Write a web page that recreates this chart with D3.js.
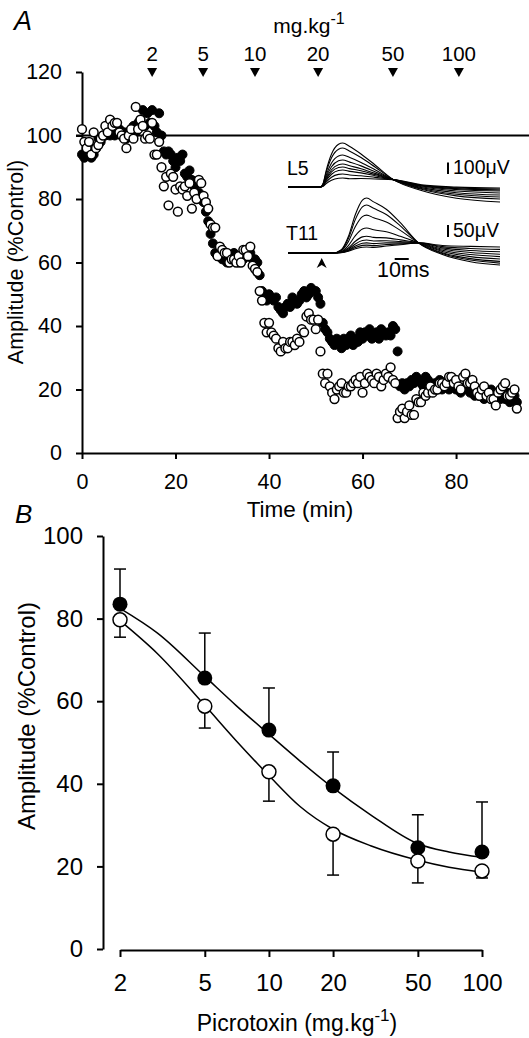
<!DOCTYPE html>
<html><head><meta charset="utf-8">
<script src="https://cdn.jsdelivr.net/npm/d3@7/dist/d3.min.js"></script>
<style>
html,body{margin:0;padding:0;background:#fff;}
svg{display:block;font-family:"Liberation Sans",Arial,Helvetica,sans-serif;}
</style></head><body>
<svg id="chart" width="529" height="1038"></svg>
<script>
// ---------- Panel A data (amplitude, % control; one sample every 0.5 min from t = 0) ----------
const sampleStepMin = 0.5;
const openAmp = [
 102, 98, 96, 98, 94, 101, 96, 97, 99, 100,
 103, 101, 105, 103, 104, 104, 101, 100, 99, 96,
 100, 102, 99, 109, 102, 105, 103, 99, 100, 99,
 104, 94, 94, 98, 90, 84, 87, 78, 88, 87,
 83, 76, 84, 83, 84, 81, 85, 77, 82, 80,
 86, 85, 81, 79, 77, 72, 71, 71, 62, 65,
 64, 63, 63, 60, 61, 61, 60, 62, 60, 64,
 64, 62, 65, 59, 58, 57, 51, 48, 41, 38,
 41, 38, 37, 36, 33, 32, 35, 33, 33, 35,
 35, 34, 36, 35, 39, 38, 43, 44, 42, 42,
 39, 42, 32, 25, 22, 25, 21, 19, 17, 20,
 21, 22, 19, 19, 21, 21, 22, 23, 22, 24,
 19, 22, 25, 24, 23, 22, 25, 24, 21, 23,
 25, 24, 27, 23, 22, 11, 13, 14, 11, 13,
 15, 12, 12, 17, 16, 16, 19, 18, 19, 21,
 19, 20, 20, 22, 22, 21, 22, 24, 24, 22,
 23, 21, 20, 24, 25, 22, 22, 23, 21, 19,
 18, 20, 21, 18, 19, 17, 17, 15, 19, 20,
 21, 22, 18, 18, 19, 20, 14
];
const filledAmp = [
 94, 93, 95, 94, 93, 94, 96, 99, 98, 100,
 100, 101, 100, 102, 100, 101, 102, 100, 101, 99,
 101, 102, 103, 101, 104, 105, 108, 103, 107, 104,
 108, 103, 101, 107, 100, 95, 94, 95, 94, 92,
 90, 93, 92, 94, 88, 87, 89, 86, 84, 85,
 82, 81, 79, 76, 73, 69, 66, 63, 62, 63,
 61, 62, 60, 61, 62, 63, 61, 60, 62, 61,
 62, 62, 63, 61, 61, 60, 56, 51, 50, 48,
 50, 49, 48, 49, 46, 45, 44, 46, 47, 46,
 49, 48, 47, 48, 50, 51, 49, 50, 52, 51,
 51, 49, 47, 41, 39, 38, 36, 35, 34, 36,
 35, 33, 36, 34, 35, 37, 34, 36, 35, 38,
 36, 38, 37, 39, 36, 37, 38, 36, 39, 38,
 37, 38, 37, 40, 39, 32, 21, 22, 20, 22,
 21, 23, 22, 24, 23, 22, 21, 24, 23, 22,
 21, 22, 21, 23, 20, 22, 21, 20, 22, 21,
 20, 21, 19, 20, 21, 20, 19, 20, 18, 19,
 18, 19, 17, 19, 18, 20, 18, 17, 19, 17,
 18, 17, 19, 16, 17, 18, 16
];
const yTicksA = [0, 20, 40, 60, 80, 100, 120];
const xTicksA = [0, 20, 40, 60, 80];
const doseTimes = [15, 25.9, 37, 50.5, 66.5, 80.6];
const doseLabels = ["2", "5", "10", "20", "50", "100"];

// ---------- Inset traces (time in ms, amplitude in µV) ----------
const l5Peaks = [383, 339, 278, 235, 200, 174, 148, 113, 78];
const l5Ends  = [-130, -104, -87, -70, -52, -35, -26, -17, -9];
const l5Cross = 64;
const l5Time      = [0, 23, 25, 27, 31, 36, 39, 44, 52, 62, 75, 95, 120, 151];
const l5PeakW     = [0, 0, 0.08, 0.35, 0.75, 0.97, 1, 0.92, 0.7, 0.4, 0, 0, 0, 0];
const l5CrossW    = [0, 0, 0, 0, 0, 0, 0, 0, 0.3, 0.6, 1, 0.35, 0.1, 0];
const l5EndW      = [0, 0, 0, 0, 0, 0, 0, 0, 0, 0, 0, 0.4, 0.8, 1];

const t11Peaks = [229, 200, 158, 104, 70, 54, 42, 33, 25];
const t11Ends  = [-50, -42, -35, -25, -15, -5, 5, 15, 25];
const t11Cross = 42;
const t11Time   = [0, 32, 38, 43, 48, 53, 56, 61, 70, 80, 93, 110, 130, 151];
const t11PeakW  = [0, 0, 0.06, 0.3, 0.7, 0.96, 1, 0.93, 0.75, 0.45, 0, 0, 0, 0];
const t11CrossW = [0, 0, 0, 0, 0, 0, 0, 0, 0.25, 0.55, 1, 0.45, 0.15, 0];
const t11EndW   = [0, 0, 0, 0, 0, 0, 0, 0, 0, 0, 0, 0.5, 0.85, 1];

// ---------- Panel B data ----------
const doses = [2, 5, 10, 20, 50, 100];
const filledMean = [83.5, 65.6, 53, 39.5, 24.5, 23.5];
const filledSE   = [8.5, 10.9, 10.2, 8.2, 8, 12.1];
const openMean   = [79.7, 58.8, 42.9, 27.8, 21.3, 18.9];
const openSE     = [4.2, 5.3, 7.1, 9.9, 5.3, 1.7];
const fitDoses   = [2, 3, 5, 7, 10, 14, 20, 30, 50, 70, 100];
const fitFilled  = [82.5, 76.5, 66, 59, 52, 45.5, 39, 32.5, 25.5, 23.5, 22.2];
const fitOpen    = [79.5, 71.5, 59, 50.5, 42, 34.5, 29, 25, 21.5, 19.8, 18.6];
const yTicksB = [0, 20, 40, 60, 80, 100];

// ================= drawing =================
const svg = d3.select("#chart");

// ----- Panel A -----
const xA = d3.scaleLinear().domain([0, 95.6]).range([82, 529]);
const yA = d3.scaleLinear().domain([0, 120]).range([453, 72]);

const gA = svg.append("g");
const yAxA = gA.append("g").attr("transform", `translate(${xA(0)},0)`)
  .call(d3.axisLeft(yA).tickValues(yTicksA).tickSize(6).tickSizeOuter(0).tickPadding(14));
const xAxA = gA.append("g").attr("transform", `translate(0,${yA(0)})`)
  .call(d3.axisBottom(xA).tickValues(xTicksA).tickSize(6).tickSizeOuter(0).tickPadding(15));
[yAxA, xAxA].forEach(a => {
  a.selectAll("path,line").attr("stroke", "#000").attr("stroke-width", 2);
  a.selectAll("text").attr("font-size", 21.5).attr("fill", "#000").attr("font-family", "Liberation Sans, Arial, sans-serif");
});

// 100% reference line
gA.append("line").attr("x1", xA(0) - 6).attr("x2", 529)
  .attr("y1", yA(100)).attr("y2", yA(100)).attr("stroke", "#000").attr("stroke-width", 2);

const filledPts = filledAmp.map((v, i) => [i * sampleStepMin, v]);
const openPts = openAmp.map((v, i) => [i * sampleStepMin, v]);
gA.append("g").selectAll("circle").data(filledPts).join("circle")
  .attr("cx", d => xA(d[0])).attr("cy", d => yA(d[1])).attr("r", 4.5)
  .attr("fill", "#000").attr("stroke", "#000").attr("stroke-width", 1);
gA.append("g").selectAll("circle").data(openPts).join("circle")
  .attr("cx", d => xA(d[0])).attr("cy", d => yA(d[1])).attr("r", 4.4)
  .attr("fill", "#fff").attr("stroke", "#000").attr("stroke-width", 1.5);

// dose markers
const doseG = gA.append("g");
doseG.selectAll("path").data(doseTimes).join("path")
  .attr("d", t => `M${xA(t) - 5},68 L${xA(t) + 5},68 L${xA(t)},77 Z`).attr("fill", "#000");
doseG.selectAll("text").data(doseTimes).join("text")
  .attr("x", t => xA(t)).attr("y", 61).attr("text-anchor", "middle")
  .attr("font-size", 20.5).text((t, i) => doseLabels[i]);
const mg = gA.append("text").attr("x", 309).attr("y", 33).attr("text-anchor", "middle").attr("font-size", 21);
mg.append("tspan").text("mg.kg");
mg.append("tspan").attr("dy", -9).attr("font-size", 16).text("-1");

// axis labels
gA.append("text").attr("x", 300).attr("y", 517).attr("text-anchor", "middle").attr("font-size", 22.5).text("Time (min)");
gA.append("text").attr("transform", "translate(23,262) rotate(-90)").attr("text-anchor", "middle")
  .attr("font-size", 21.5).text("Amplitude (%Control)");
gA.append("text").attr("x", 14).attr("y", 30).attr("font-size", 27).attr("font-style", "italic").text("A");

// ----- Inset traces -----
const xIns = d3.scaleLinear().domain([0, 151]).range([288, 500]);
const yL5 = d3.scaleLinear().domain([0, 100]).range([187, 175.5]);
const yT11 = d3.scaleLinear().domain([0, 50]).range([253, 241]);
const insG = svg.append("g").attr("fill", "none").attr("stroke", "#000").attr("stroke-width", 1.1);

function buildTrace(times, pw, cw, ew, P, X, L) {
  return times.map((t, k) => [t, P * pw[k] + X * cw[k] + L * ew[k]]);
}
const lineL5 = d3.line().x(d => xIns(d[0])).y(d => yL5(d[1])).curve(d3.curveMonotoneX);
const lineT11 = d3.line().x(d => xIns(d[0])).y(d => yT11(d[1])).curve(d3.curveMonotoneX);
l5Peaks.forEach((P, i) => {
  insG.append("path").attr("d", lineL5(buildTrace(l5Time, l5PeakW, l5CrossW, l5EndW, P, l5Cross, l5Ends[i])));
});
t11Peaks.forEach((P, i) => {
  insG.append("path").attr("d", lineT11(buildTrace(t11Time, t11PeakW, t11CrossW, t11EndW, P, t11Cross, t11Ends[i])));
});

// scale bars and labels
const sb = svg.append("g");
sb.append("line").attr("x1", 448).attr("x2", 448).attr("y1", yL5(100)).attr("y2", yL5(0)).attr("transform", "translate(0,-13)")
  .attr("stroke", "#000").attr("stroke-width", 2);
sb.append("line").attr("x1", 448).attr("x2", 448).attr("y1", yT11(50)).attr("y2", yT11(0)).attr("transform", "translate(0,-16)")
  .attr("stroke", "#000").attr("stroke-width", 2);
sb.append("line").attr("x1", xIns(76)).attr("x2", xIns(86)).attr("y1", 259).attr("y2", 259)
  .attr("stroke", "#000").attr("stroke-width", 2);
sb.append("text").attr("x", 453).attr("y", 174).attr("font-size", 19.5).text("100μV");
sb.append("text").attr("x", 453).attr("y", 237).attr("font-size", 19.5).text("50μV");
sb.append("text").attr("x", 377).attr("y", 277).attr("font-size", 21.5).text("10ms");
sb.append("text").attr("x", 287).attr("y", 175).attr("font-size", 19.5).text("L5");
sb.append("text").attr("x", 286).attr("y", 240).attr("font-size", 19.5).text("T11");
const ax = xIns(24);
sb.append("path").attr("d", `M${ax},258 L${ax + 5},268 L${ax},265 L${ax - 5},268 Z`).attr("fill", "#000");

// ----- Panel B -----
const xB = d3.scaleLog().domain([2, 100]).range([120, 482]);
const yB = d3.scaleLinear().domain([0, 100]).range([949, 536]);
const gB = svg.append("g");
const yAxB = gB.append("g").attr("transform", "translate(103,0)")
  .call(d3.axisLeft(yB).tickValues(yTicksB).tickSize(6).tickSizeOuter(0).tickPadding(14));
const xAxB = gB.append("g").attr("transform", "translate(0,950)")
  .call(d3.axisBottom(xB).tickValues(doses).tickFormat(d3.format("d")).tickSize(7).tickSizeOuter(0).tickPadding(17));
[yAxB, xAxB].forEach(a => {
  a.selectAll("path,line").attr("stroke", "#000").attr("stroke-width", 2);
  a.selectAll("text").attr("font-size", 24).attr("fill", "#000").attr("font-family", "Liberation Sans, Arial, sans-serif");
});

const fitLine = d3.line().x(d => xB(d[0])).y(d => yB(d[1])).curve(d3.curveMonotoneX);
gB.append("path").attr("d", fitLine(fitDoses.map((d, i) => [d, fitFilled[i]])))
  .attr("fill", "none").attr("stroke", "#000").attr("stroke-width", 1.5);
gB.append("path").attr("d", fitLine(fitDoses.map((d, i) => [d, fitOpen[i]])))
  .attr("fill", "none").attr("stroke", "#000").attr("stroke-width", 1.5);

const errG = gB.append("g").attr("stroke", "#000").attr("stroke-width", 1.5);
doses.forEach((d, i) => {
  const x = xB(d);
  const yt = yB(filledMean[i] + filledSE[i]);
  errG.append("line").attr("x1", x).attr("x2", x).attr("y1", yB(filledMean[i])).attr("y2", yt);
  errG.append("line").attr("x1", x - 6).attr("x2", x + 6).attr("y1", yt).attr("y2", yt);
  const yb = yB(openMean[i] - openSE[i]);
  errG.append("line").attr("x1", x).attr("x2", x).attr("y1", yB(openMean[i])).attr("y2", yb);
  errG.append("line").attr("x1", x - 6).attr("x2", x + 6).attr("y1", yb).attr("y2", yb);
});
gB.append("g").selectAll("circle").data(doses).join("circle")
  .attr("cx", d => xB(d)).attr("cy", (d, i) => yB(filledMean[i])).attr("r", 7.5).attr("fill", "#000");
gB.append("g").selectAll("circle").data(doses).join("circle")
  .attr("cx", d => xB(d)).attr("cy", (d, i) => yB(openMean[i])).attr("r", 7)
  .attr("fill", "#fff").attr("stroke", "#000").attr("stroke-width", 1.5);

const pl = gB.append("text").attr("x", 297).attr("y", 1031).attr("text-anchor", "middle").attr("font-size", 23);
pl.append("tspan").text("Picrotoxin (mg.kg");
pl.append("tspan").attr("dy", -10).attr("font-size", 17).text("-1");
pl.append("tspan").attr("dy", 10).text(")");
gB.append("text").attr("transform", "translate(35,716) rotate(-90)").attr("text-anchor", "middle")
  .attr("font-size", 24).text("Amplitude (%Control)");
gB.append("text").attr("x", 15).attr("y", 523).attr("font-size", 26).attr("font-style", "italic").text("B");
</script>
</body></html>
